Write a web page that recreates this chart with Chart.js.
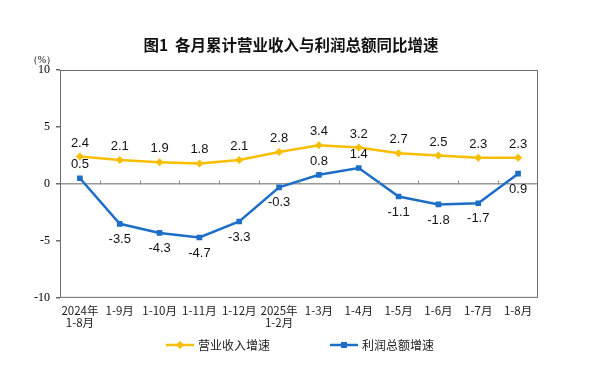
<!DOCTYPE html>
<html>
<head>
<meta charset="utf-8">
<script src="https://cdn.jsdelivr.net/npm/chart.js@4/dist/chart.umd.min.js"></script>
<style>
  html, body { margin: 0; padding: 0; background: #fff; }
  #wrap { width: 600px; height: 372px; position: relative; }
</style>
</head>
<body>
<div id="wrap"><canvas id="chart"></canvas></div>
<script>
const chartTitle = '图1  各月累计营业收入与利润总额同比增速';
const months = [['2024年', '1-8月'], '1-9月', '1-10月', '1-11月', '1-12月', ['2025年', '1-2月'],
  '1-3月', '1-4月', '1-5月', '1-6月', '1-7月', '1-8月'];
const revenueGrowth = [2.4, 2.1, 1.9, 1.8, 2.1, 2.8, 3.4, 3.2, 2.7, 2.5, 2.3, 2.3];
const profitGrowth = [0.5, -3.5, -4.3, -4.7, -3.3, -0.3, 0.8, 1.4, -1.1, -1.8, -1.7, 0.9];
const profitLabelSide = ['top', 'bottom', 'bottom', 'bottom', 'bottom', 'bottom',
  'top', 'top', 'bottom', 'bottom', 'bottom', 'bottom'];
const yTicks = [-10, -5, 0, 5, 10];

const YELLOW = '#F7BE00';
const BLUE = '#1E6EC8';

function drawMarker(ctx, style, x, y, r) {
  ctx.beginPath();
  if (style === 'rectRot') {
    ctx.moveTo(x, y - r); ctx.lineTo(x + r, y); ctx.lineTo(x, y + r); ctx.lineTo(x - r, y);
    ctx.closePath();
  } else {
    ctx.rect(x - r * 0.75, y - r * 0.75, r * 1.5, r * 1.5);
  }
  ctx.fill();
}

const frame = {
  id: 'frame',
  afterDatasetsDraw(chart) {
    const { ctx, chartArea: a, scales: { x, y } } = chart;
    ctx.save();
    // box
    ctx.strokeStyle = '#6b6b6b';
    ctx.lineWidth = 1;
    ctx.strokeRect(a.left + 0.5, a.top + 0.5, a.right - a.left - 1, a.bottom - a.top - 1);
    // category ticks on the zero line
    const y0 = Math.round(y.getPixelForValue(0)) + 0.5;
    const step = x.getPixelForValue(1) - x.getPixelForValue(0);
    ctx.strokeStyle = '#8a8a8a';
    ctx.beginPath();
    for (let i = 1; i < months.length; i++) {
      const px = Math.round(x.getPixelForValue(i) - step / 2) + 0.5;
      ctx.moveTo(px, y0); ctx.lineTo(px, y0 - 4);
    }
    ctx.stroke();
    // unit label
    ctx.fillStyle = '#000';
    ctx.font = '10px "Liberation Serif"';
    ctx.textAlign = 'center';
    ctx.textBaseline = 'bottom';
    ctx.fillText('（%）', a.left - 18, a.top - 5);
    // title, centred over the plot box
    ctx.fillStyle = '#111';
    ctx.font = 'bold 15.5px "Noto Sans CJK SC"';
    ctx.textBaseline = 'middle';
    ctx.fillText(chartTitle, (a.left + a.right) / 2 - 8, 45);
    ctx.restore();
  }
};

const valueLabels = {
  id: 'valueLabels',
  afterDatasetsDraw(chart) {
    const { ctx } = chart;
    ctx.save();
    ctx.font = '13px "Liberation Sans", Arial, sans-serif';
    ctx.fillStyle = '#111';
    ctx.textAlign = 'center';
    chart.data.datasets.forEach((ds, di) => {
      chart.getDatasetMeta(di).data.forEach((pt, i) => {
        const side = di === 0 ? 'top' : profitLabelSide[i];
        const txt = ds.data[i].toFixed(1);
        if (side === 'top') {
          ctx.textBaseline = 'bottom';
          ctx.fillText(txt, pt.x, pt.y - 7);
        } else {
          ctx.textBaseline = 'top';
          ctx.fillText(txt, pt.x, pt.y + 9);
        }
      });
    });
    ctx.restore();
  }
};

// legend drawn by hand: line + marker, then the label, centred under the chart
const bottomLegend = {
  id: 'bottomLegend',
  afterDraw(chart) {
    const { ctx, width } = chart;
    const cy = 345, lineLen = 28, gapText = 4, gapItem = 60;
    ctx.save();
    ctx.font = '12px "Noto Sans CJK SC"';
    const items = chart.data.datasets.map(ds => ({ ds, w: ctx.measureText(ds.label).width }));
    const total = items.reduce((s, it) => s + lineLen + gapText + it.w, 0) + gapItem * (items.length - 1);
    let x = (width - total) / 2;
    items.forEach(({ ds, w }) => {
      ctx.strokeStyle = ds.borderColor;
      ctx.fillStyle = ds.borderColor;
      ctx.lineWidth = 2.5;
      ctx.beginPath(); ctx.moveTo(x, cy); ctx.lineTo(x + lineLen, cy); ctx.stroke();
      drawMarker(ctx, ds.pointStyle, x + lineLen / 2, cy, 4);
      ctx.fillStyle = '#222';
      ctx.textAlign = 'left';
      ctx.textBaseline = 'middle';
      ctx.fillText(ds.label, x + lineLen + gapText, cy);
      x += lineLen + gapText + w + gapItem;
    });
    ctx.restore();
  }
};

new Chart(document.getElementById('chart'), {
  type: 'line',
  data: {
    labels: months,
    datasets: [
      {
        label: '营业收入增速',
        data: revenueGrowth,
        borderColor: YELLOW,
        backgroundColor: YELLOW,
        borderWidth: 2.5,
        pointStyle: 'rectRot',
        pointRadius: 4,
        pointBorderWidth: 0,
        tension: 0
      },
      {
        label: '利润总额增速',
        data: profitGrowth,
        borderColor: BLUE,
        backgroundColor: BLUE,
        borderWidth: 2.5,
        pointStyle: 'rect',
        pointRadius: 4,
        pointBorderWidth: 0,
        tension: 0
      }
    ]
  },
  options: {
    responsive: true,
    maintainAspectRatio: false,
    animation: false,
    layout: { padding: { left: 28, right: 62, top: 70, bottom: 36 } },
    plugins: {
      title: { display: false },
      legend: { display: false },
      tooltip: { enabled: false }
    },
    scales: {
      x: {
        offset: true,
        grid: { display: false, drawTicks: false },
        border: { display: false },
        ticks: {
          color: '#222',
          font: { family: '"Noto Sans CJK SC"', size: 11.5, lineHeight: 1.05 },
          padding: 7,
          maxRotation: 0,
          autoSkip: false
        }
      },
      y: {
        min: -10,
        max: 10,
        afterBuildTicks(scale) { scale.ticks = yTicks.map(v => ({ value: v })); },
        grid: {
          color: ctx => (ctx.tick && ctx.tick.value === 0 ? '#999' : 'rgba(0,0,0,0)'),
          tickColor: '#6b6b6b',
          tickLength: 4,
          lineWidth: 1.5
        },
        border: { display: false },
        ticks: {
          color: '#000',
          font: { family: '"Liberation Serif"', size: 12 },
          padding: 6
        }
      }
    }
  },
  plugins: [frame, valueLabels, bottomLegend]
});
</script>
</body>
</html>
